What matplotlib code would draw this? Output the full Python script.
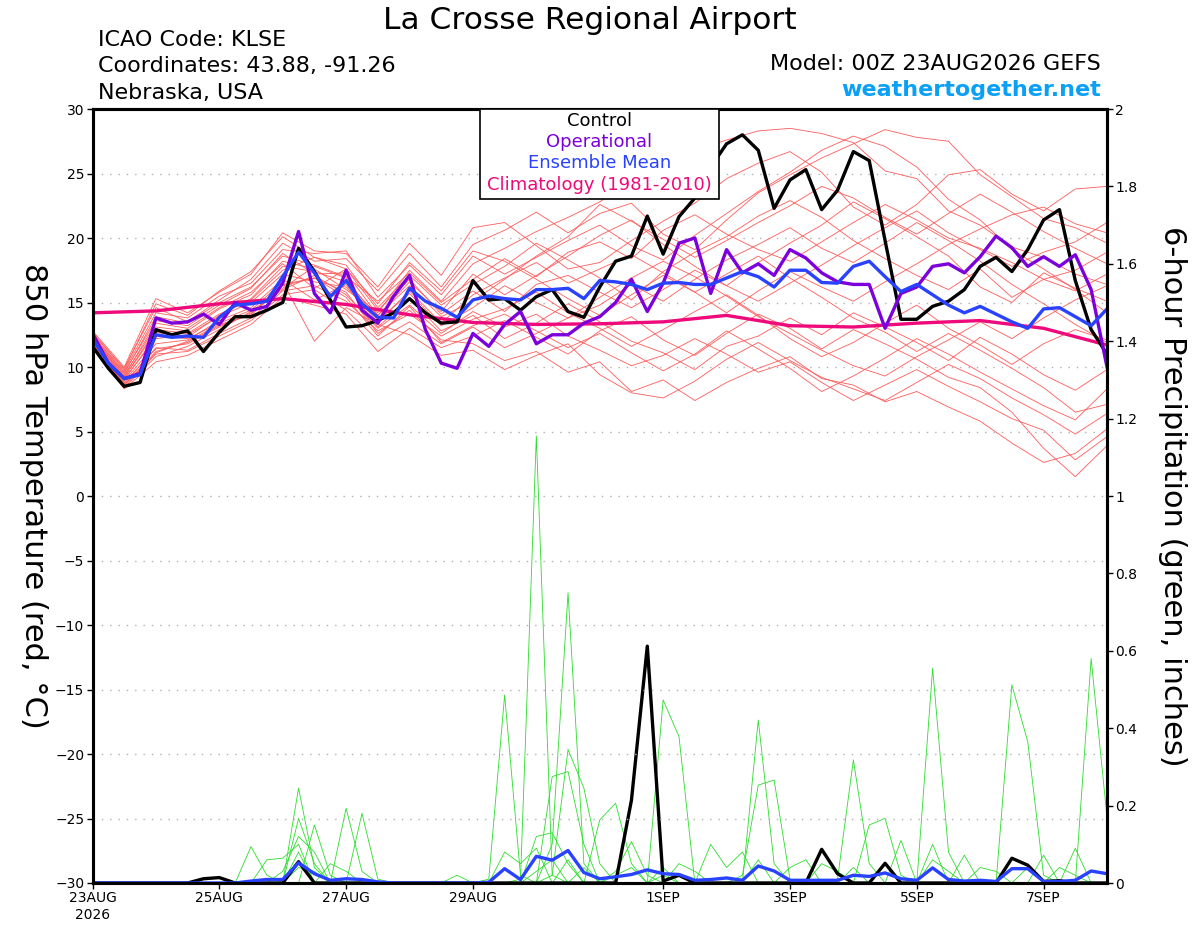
import matplotlib
matplotlib.use("Agg")
import matplotlib.pyplot as plt
from matplotlib.patches import Rectangle

# ── Data (6-hourly steps, 23AUG 00Z .. 8SEP 00Z) ─────────────────────────────
CONTROL_T = [11.6, 9.9, 8.5, 8.8, 12.9, 12.5, 12.8, 11.2, 12.7, 13.9, 13.9, 14.4, 15.0,
             19.2, 17.4, 15.2, 13.1, 13.2, 13.6, 14.2, 15.3, 14.2, 13.4, 13.5, 16.7,
             15.2, 15.3, 14.4, 15.45, 16.0, 14.3, 13.85, 16.2, 18.2, 18.6, 21.7, 18.75,
             21.65, 23.1, 25.5, 27.3, 28.0, 26.8, 22.3, 24.5, 25.3, 22.2, 23.7, 26.7,
             26.0, 19.8, 13.7, 13.7, 14.7, 15.1, 16.0, 17.8, 18.5, 17.4, 19.1, 21.4,
             22.2, 16.7, 12.9, 11.0]
OPER_T = [12.6, 10.3, 9.1, 9.5, 13.8, 13.4, 13.5, 14.1, 13.3, 15.0, 14.4, 14.7, 16.5,
          20.5, 15.7, 14.2, 17.5, 14.4, 13.4, 15.5, 17.1, 12.9, 10.3, 9.9, 12.6, 11.6,
          13.3, 14.3, 11.8, 12.5, 12.5, 13.4, 13.9, 15.0, 16.8, 14.3, 16.5, 19.6, 20.0,
          15.7, 19.1, 17.3, 18.0, 17.1, 19.1, 18.45, 17.3, 16.6, 16.4, 16.4, 13.0, 15.7,
          16.2, 17.8, 18.0, 17.3, 18.55, 20.15, 19.25, 17.8, 18.55, 17.8, 18.7, 16.0, 10.0]
MEAN_T = [12.2, 10.3, 9.1, 9.4, 12.5, 12.3, 12.4, 12.3, 13.85, 14.8, 14.9, 15.1, 17.0,
          18.9, 17.3, 15.45, 16.7, 14.9, 13.85, 13.8, 16.1, 15.1, 14.55, 13.85, 15.2,
          15.5, 15.3, 15.2, 16.0, 16.0, 16.1, 15.3, 16.7, 16.6, 16.4, 16.0, 16.5, 16.55,
          16.4, 16.4, 16.9, 17.4, 17.0, 16.2, 17.5, 17.5, 16.55, 16.5, 17.8, 18.2, 17.0,
          15.85, 16.4, 15.6, 14.8, 14.2, 14.7, 14.1, 13.5, 13.0, 14.5, 14.6, 13.9, 13.2, 14.5]
CONTROL_P = [0, 0, 0, 0, 0, 0, 0, 0.011, 0.014, 0, 0, 0, 0, 0.055, 0, 0, 0, 0, 0, 0, 0,
             0, 0, 0, 0, 0, 0, 0, 0, 0, 0, 0, 0, 0, 0.214, 0.612, 0.005, 0.02, 0, 0, 0,
             0, 0, 0, 0, 0, 0.087, 0.024, 0, 0, 0.051, 0, 0, 0, 0, 0, 0, 0, 0.064, 0.046,
             0.004, 0.006, 0, 0, 0]
MEAN_P = [0, 0, 0, 0, 0, 0, 0, 0, 0, 0, 0.005, 0.009, 0.009, 0.052, 0.024, 0.007, 0.011,
          0.009, 0.003, 0, 0, 0, 0, 0, 0, 0.002, 0.037, 0.009, 0.069, 0.059, 0.084, 0.027,
          0.011, 0.016, 0.022, 0.034, 0.024, 0.022, 0.007, 0.009, 0.013, 0.007, 0.044,
          0.031, 0.007, 0.007, 0.007, 0.007, 0.02, 0.017, 0.026, 0.011, 0.007, 0.039,
          0.009, 0.005, 0.007, 0.004, 0.037, 0.037, 0.004, 0.004, 0.007, 0.031, 0.024]

# climatology, one value per day
CLIMO_T = [14.2, 14.35, 14.9, 15.3, 14.85, 14.05, 13.45, 13.3, 13.35, 13.5, 14.0,
           13.2, 13.1, 13.4, 13.6, 13.0, 11.7]

# ensemble members, 12-hourly temperature
MEMBERS_T = [
    [12.3, 9.4, 13.1, 12.8, 14.5, 15.6, 18.2, 17.6, 16.0, 14.2, 17.5, 15.1, 18.0, 19.2, 20.5, 21.6, 22.8, 24.5, 25.9, 26.8, 27.6, 28.3, 28.5, 28.1, 27.4, 25.2, 24.6, 22.1, 21.0, 19.3, 18.5, 17.2, 16.4],
    [11.8, 8.6, 11.2, 11.9, 13.2, 14.1, 16.3, 16.9, 15.8, 12.6, 14.4, 12.1, 11.8, 10.5, 11.2, 9.6, 10.4, 8.1, 9.0, 7.4, 8.8, 9.9, 10.8, 9.1, 8.6, 7.3, 8.1, 6.9, 5.8, 4.1, 2.6, 3.3, 5.2],
    [12.6, 9.9, 14.6, 13.5, 15.2, 16.8, 19.6, 18.2, 18.4, 15.9, 18.8, 16.2, 19.5, 20.6, 22.0, 20.4, 21.9, 22.7, 20.3, 19.1, 21.4, 23.5, 24.9, 26.2, 27.3, 28.4, 27.8, 27.5, 24.9, 23.2, 21.5, 20.8, 19.6],
    [11.5, 8.3, 10.4, 10.9, 12.1, 13.3, 15.4, 14.8, 14.1, 11.2, 13.0, 11.5, 12.4, 13.6, 12.3, 11.0, 12.8, 13.9, 12.1, 10.9, 12.6, 14.1, 13.0, 11.4, 12.9, 11.8, 10.6, 9.2, 8.4, 6.5, 3.7, 1.5, 3.9],
    [12.2, 9.2, 12.9, 12.6, 14.1, 15.2, 17.5, 18.5, 17.9, 14.6, 17.1, 14.8, 16.4, 17.8, 19.6, 18.3, 16.9, 15.2, 17.4, 18.9, 20.1, 21.7, 22.9, 21.6, 19.8, 18.4, 17.1, 16.0, 17.6, 15.4, 16.8, 17.5, 18.9],
    [12.0, 8.9, 11.8, 12.1, 13.6, 14.6, 16.8, 15.2, 16.4, 13.1, 15.3, 12.8, 14.0, 12.2, 13.4, 14.9, 13.5, 12.0, 11.1, 9.8, 11.6, 12.4, 13.8, 12.5, 14.2, 13.1, 11.9, 10.5, 12.3, 11.0, 9.4, 8.2, 9.8],
    [12.8, 10.0, 15.3, 14.2, 15.8, 17.2, 20.4, 19.0, 18.8, 16.2, 19.6, 17.1, 20.8, 21.2, 19.4, 17.6, 18.1, 19.8, 21.3, 22.7, 24.6, 25.8, 26.7, 25.1, 22.4, 21.0, 22.6, 24.9, 25.3, 23.4, 22.1, 23.8, 24.0],
    [11.9, 8.7, 11.5, 11.3, 12.6, 13.8, 15.9, 16.3, 15.1, 12.8, 14.1, 12.4, 13.7, 14.5, 15.8, 14.2, 13.0, 11.6, 12.9, 14.3, 15.6, 14.0, 12.2, 10.8, 11.9, 13.4, 14.8, 13.0, 11.7, 10.2, 11.8, 12.9, 12.1],
    [12.4, 9.6, 13.6, 13.2, 14.8, 16.1, 18.8, 17.2, 17.3, 14.0, 16.6, 14.3, 17.2, 15.6, 17.1, 18.6, 20.2, 21.4, 19.5, 17.8, 16.3, 18.1, 19.6, 21.0, 22.8, 21.5, 20.1, 18.6, 16.2, 15.0, 17.3, 16.1, 15.1],
    [11.7, 8.4, 10.8, 11.6, 12.9, 14.3, 16.1, 17.8, 16.9, 13.6, 15.7, 13.2, 14.6, 16.3, 15.0, 13.8, 15.4, 16.9, 18.2, 17.0, 15.5, 13.9, 12.6, 11.3, 10.1, 9.3, 10.8, 12.1, 13.5, 12.2, 13.8, 15.2, 16.3],
    [12.5, 9.7, 14.2, 13.8, 15.5, 16.5, 19.1, 18.8, 19.0, 15.4, 17.9, 15.6, 18.6, 17.2, 18.5, 19.8, 21.0, 19.4, 18.3, 20.2, 21.9, 23.6, 25.1, 26.8, 27.9, 27.1, 25.5, 23.0, 21.4, 19.1, 17.6, 16.0, 14.2],
    [12.1, 9.0, 12.4, 12.2, 13.4, 14.4, 16.6, 12.0, 14.6, 13.3, 12.5, 10.9, 11.3, 9.8, 10.9, 11.8, 9.4, 8.0, 7.6, 8.9, 10.6, 11.9, 10.5, 9.2, 8.3, 7.4, 8.8, 10.2, 9.1, 7.6, 6.3, 4.8, 6.4],
    [11.6, 8.5, 11.0, 11.2, 12.4, 13.6, 15.6, 16.0, 14.4, 12.1, 13.5, 11.8, 13.1, 11.5, 12.6, 13.8, 14.8, 16.4, 15.1, 16.8, 18.3, 19.5, 20.8, 19.2, 18.1, 19.6, 21.2, 19.8, 18.2, 16.4, 14.9, 13.3, 11.9],
    [12.7, 9.8, 14.9, 14.0, 15.9, 17.4, 20.1, 18.5, 17.6, 14.9, 18.1, 15.9, 19.0, 18.2, 16.8, 15.3, 14.0, 15.6, 17.1, 15.8, 14.2, 15.9, 17.4, 16.2, 15.1, 16.6, 18.0, 19.5, 20.7, 21.8, 22.4, 21.1, 20.4],
    [12.0, 9.1, 12.2, 12.5, 13.9, 15.0, 17.2, 16.6, 16.2, 13.5, 15.9, 13.4, 15.6, 16.9, 18.1, 16.5, 17.6, 18.7, 17.3, 15.8, 17.2, 18.6, 16.9, 15.4, 13.8, 12.7, 11.2, 12.6, 11.3, 9.9, 8.4, 6.5, 7.1],
    [12.3, 9.3, 13.4, 13.0, 14.6, 15.8, 18.0, 16.1, 17.6, 14.4, 16.8, 14.1, 15.9, 14.3, 16.4, 17.1, 15.8, 14.6, 16.0, 17.5, 16.3, 15.1, 16.5, 17.9, 19.4, 20.8, 22.1, 20.4, 19.1, 17.8, 18.9, 19.7, 21.2],
    [11.9, 8.8, 11.4, 11.8, 13.1, 14.2, 16.0, 17.1, 15.6, 13.0, 14.8, 12.6, 14.3, 13.1, 14.1, 12.4, 11.3, 10.1, 10.9, 12.2, 11.0, 9.6, 10.4, 8.8, 7.4, 8.6, 9.8, 8.5, 7.3, 6.0, 5.1, 2.8, 4.6],
    [12.4, 9.5, 13.9, 13.4, 15.0, 16.2, 18.6, 17.9, 17.0, 15.1, 17.3, 15.0, 16.8, 18.4, 17.0, 18.9, 19.7, 18.4, 20.6, 21.8, 20.3, 19.1, 18.2, 19.7, 21.2, 22.6, 21.4, 20.0, 19.2, 18.1, 16.8, 15.9, 17.2],
    [11.8, 8.6, 11.1, 12.0, 13.3, 14.0, 16.4, 16.9, 15.4, 12.4, 14.7, 11.9, 13.2, 14.1, 12.8, 11.5, 12.6, 11.1, 9.7, 11.0, 12.8, 11.4, 9.9, 8.1, 9.3, 10.7, 12.2, 11.0, 9.6, 8.3, 7.0, 5.9, 8.3],
    [12.2, 9.2, 12.7, 12.3, 14.0, 15.3, 17.8, 17.4, 16.6, 14.0, 16.3, 13.9, 15.1, 16.8, 18.6, 20.1, 22.6, 21.3, 19.9, 18.5, 19.8, 21.2, 22.5, 24.0, 23.1, 21.6, 20.3, 21.9, 23.4, 22.0, 20.5, 19.2, 18.0],
]

# ensemble member 6-hour precipitation: {step: inches}, every other step is 0
MEMBERS_P = [
    {27: 0.01, 28: 1.155, 29: 0.02},
    {29: 0.10, 30: 0.75, 31: 0.05, 36: 0.02},
    {25: 0.01, 26: 0.486, 27: 0.02, 58: 0.512, 59: 0.365, 60: 0.02},
    {36: 0.473, 37: 0.378, 13: 0.167, 14: 0.05},
    {42: 0.421, 43: 0.05, 10: 0.094, 11: 0.02},
    {41: 0.02, 42: 0.253, 43: 0.266, 44: 0.01, 63: 0.58, 64: 0.17},
    {47: 0.01, 48: 0.318, 49: 0.05, 13: 0.245, 14: 0.04},
    {53: 0.555, 54: 0.08, 16: 0.193, 17: 0.03},
    {29: 0.02, 30: 0.345, 31: 0.245, 32: 0.05, 17: 0.18, 18: 0.01},
    {29: 0.275, 30: 0.288, 31: 0.10, 49: 0.15, 50: 0.167, 51: 0.02},
    {28: 0.12, 29: 0.13, 30: 0.05, 14: 0.15, 15: 0.02, 53: 0.10},
    {32: 0.163, 33: 0.206, 34: 0.05, 55: 0.072},
    {33: 0.03, 34: 0.107, 35: 0.02, 60: 0.072, 62: 0.09},
    {39: 0.10, 40: 0.04, 41: 0.08, 51: 0.11},
    {11: 0.06, 12: 0.064, 13: 0.10, 23: 0.02},
    {26: 0.08, 27: 0.05, 28: 0.09, 36: 0.04, 46: 0.05, 47: 0.03},
    {12: 0.03, 13: 0.12, 14: 0.08, 30: 0.06, 44: 0.04, 45: 0.06},
    {13: 0.08, 15: 0.05, 16: 0.03, 37: 0.05, 38: 0.03, 56: 0.04, 57: 0.03},
    {28: 0.03, 29: 0.06, 31: 0.04, 42: 0.06, 50: 0.05, 61: 0.04, 62: 0.02},
    {13: 0.04, 14: 0.03, 33: 0.02, 34: 0.04, 48: 0.04, 53: 0.06, 54: 0.03, 59: 0.04},
]

TICK_DAYS = [0, 2, 4, 6, 9, 11, 13, 15]
TICK_LABELS = ["23AUG\n2026", "25AUG", "27AUG", "29AUG", "1SEP", "3SEP", "5SEP", "7SEP"]

# ── Styles ─────────────────────────────────────────────────────────────────────
C_MEMBER = "#ff5a5a"
C_PRECIP = "#2ddc2d"
C_CLIMO = "#ee0a7a"
C_OPER = "#7c00dc"
C_MEAN = "#2842ff"
C_SITE = "#0aa0f5"

plt.rcParams["font.family"] = ["DejaVu Sans"]

steps = list(range(len(CONTROL_T)))
t6 = [s / 4 for s in steps]
t12 = [i / 2 for i in range(len(MEMBERS_T[0]))]
t24 = list(range(len(CLIMO_T)))

W, H = 1200, 927
fig = plt.figure(figsize=(W / 100, H / 100), dpi=100)
L, R, T, B = 92.5, 1107, 109, 883
ax = fig.add_axes([L / W, 1 - B / H, (R - L) / W, (B - T) / H])
ax2 = ax.twinx()
ax.set_zorder(ax2.get_zorder() + 1)
ax.patch.set_visible(False)

# precipitation (right axis)
for m in MEMBERS_P:
    vals = [m.get(s, 0.0) for s in steps]
    ax2.plot(t6, vals, color=C_PRECIP, lw=0.6)
ax2.plot(t6, CONTROL_P, color="black", lw=2.4)
ax2.plot(t6, MEAN_P, color=C_MEAN, lw=2.4)

# temperature (left axis)
for m in MEMBERS_T:
    ax.plot(t12, m, color=C_MEMBER, lw=0.6)
ax.plot(t24, CLIMO_T, color=C_CLIMO, lw=2.4)
ax.plot(t6, CONTROL_T, color="black", lw=2.4)
ax.plot(t6, OPER_T, color=C_OPER, lw=2.4)
ax.plot(t6, MEAN_T, color=C_MEAN, lw=2.4)

ax.set_xlim(0, 16)
ax.set_ylim(-30, 30)
ax2.set_ylim(0, 2)
ax.set_yticks(range(-30, 31, 5))
ax2.set_yticks([i / 5 for i in range(11)])
ax2.set_yticklabels(["%g" % (i / 5) for i in range(11)])
ax.set_xticks(TICK_DAYS)
ax.set_xticklabels(TICK_LABELS)
ax.grid(axis="y", color="#b0b0b0", lw=1.0, ls=(0, (1, 5)))
for a in (ax, ax2):
    a.tick_params(direction="out", length=4, width=1, labelsize=10, pad=2)
    for sp in a.spines.values():
        sp.set_linewidth(2.2)

# axis titles, both read top-to-bottom
mid = 1 - (T + B) / 2 / H
fig.text(33 / W, mid, "850 hPa Temperature (red, °C)", fontsize=22,
         rotation=270, ha="center", va="center")
fig.text(1172 / W, mid, "6-hour Precipitation (green, inches)", fontsize=22,
         rotation=270, ha="center", va="center")

# legend box
x0 = (480 - L) / (R - L)
x1 = (719 - L) / (R - L)
y0 = (B - 199) / (B - T)
ax.add_patch(Rectangle((x0, y0), x1 - x0, 1 - y0, transform=ax.transAxes,
                       facecolor="white", edgecolor="black", lw=1.2, zorder=10,
                       clip_on=False))
for txt, col, yy in [("Control", "black", 121), ("Operational", C_OPER, 142),
                     ("Ensemble Mean", C_MEAN, 163),
                     ("Climatology (1981-2010)", C_CLIMO, 185)]:
    ax.text((x0 + x1) / 2, (B - yy) / (B - T), txt, color=col, fontsize=13,
            ha="center", va="center", transform=ax.transAxes, zorder=11)

# header texts
fig.text(590 / W, 1 - 29 / H, "La Crosse Regional Airport", fontsize=22.5,
         ha="center", va="baseline")
fig.text(98 / W, 1 - 46 / H, "ICAO Code: KLSE", fontsize=16, va="baseline")
fig.text(98 / W, 1 - 72.5 / H, "Coordinates: 43.88, -91.26", fontsize=16, va="baseline")
fig.text(98 / W, 1 - 99 / H, "Nebraska, USA", fontsize=16, va="baseline")
fig.text(1101 / W, 1 - 70.5 / H, "Model: 00Z 23AUG2026 GEFS", fontsize=16,
         ha="right", va="baseline")
fig.text(1101 / W, 1 - 96.5 / H, "weathertogether.net", fontsize=16, fontweight="bold",
         color=C_SITE, ha="right", va="baseline")

fig.savefig("out.png", dpi=100)
